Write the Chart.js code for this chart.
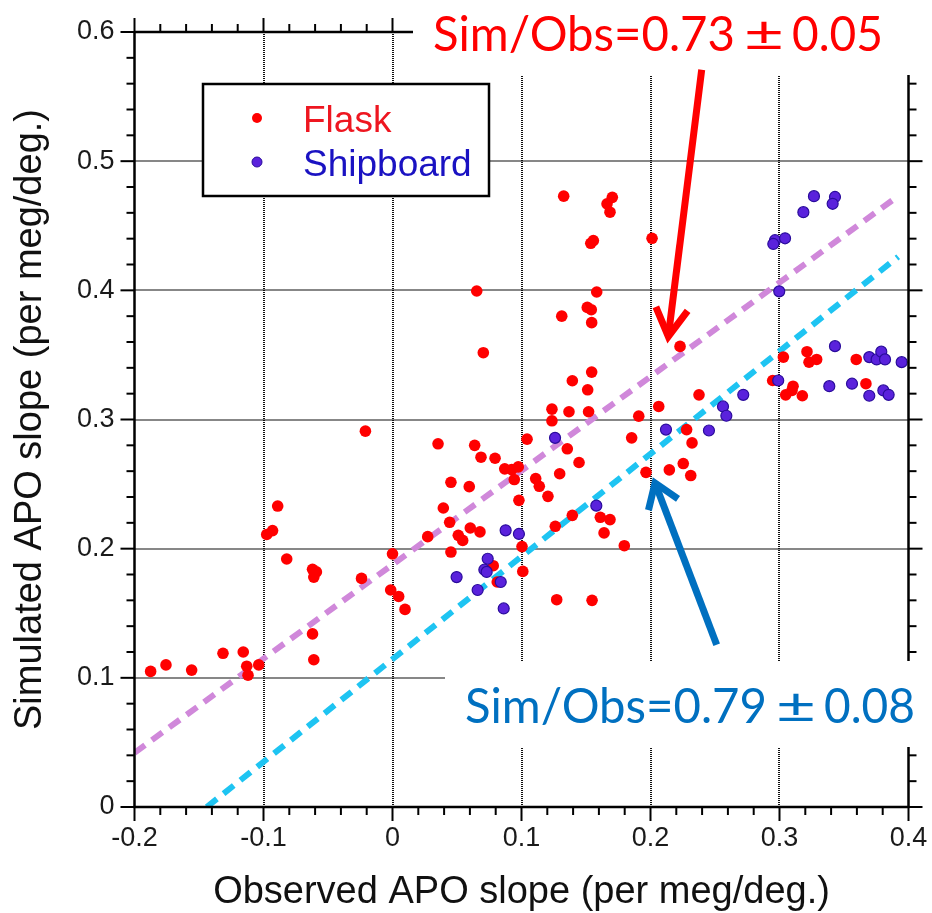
<!DOCTYPE html>
<html>
<head>
<meta charset="utf-8">
<script src="https://cdn.jsdelivr.net/npm/chart.js@4.4.0/dist/chart.umd.min.js"></script>
<style>
    html, body { margin: 0; padding: 0; background: #fff; }
</style>
</head>
<body>
<canvas id="scatter_chart" width="932" height="913"></canvas>
<script>
// Flask samples (observed slope, simulated slope)
const flaskX = [-0.021, -0.089, -0.0975, -0.093, -0.082, -0.062, -0.059, -0.061, -0.024, -0.062,
    -0.061, -0.1875, -0.1756, -0.1557, -0.1314, -0.1157, -0.113, -0.112, -0.1037, 0.000,
    -0.0014, 0.0048, 0.0097, 0.1394, 0.1513, 0.1236, 0.1368, 0.152, 0.1236, 0.1909,
    0.1043, 0.1854, 0.0353, 0.0637, 0.0686, 0.0795, 0.1355, 0.1446, 0.087, 0.0924,
    0.0975, 0.0944, 0.111, 0.1138, 0.1296, 0.1205, 0.0453, 0.0595, 0.098, 0.0394,
    0.0443, 0.0603, 0.0678, 0.0273, 0.051, 0.0544, 0.0453, 0.1004, 0.1394, 0.1262,
    0.1611, 0.1686, 0.164, 0.1797, 0.0781, 0.0812, 0.101, 0.1273, 0.1547, 0.1327,
    0.1704, 0.1663, 0.1686, 0.1557, 0.1537, 0.0653, 0.1583, 0.151, 0.1541, 0.1312,
    0.1544, 0.0704, 0.1544, 0.2012, 0.2229, 0.303, 0.3213, 0.3229, 0.3288, 0.3595,
    0.2947, 0.3048, 0.3105, 0.3097, 0.3177, 0.367, 0.2376, 0.2064, 0.228, 0.2322,
    0.2254, 0.2146, 0.1965, 0.2312]
const flaskY = [0.291, 0.233, 0.211, 0.214, 0.192, 0.184, 0.182, 0.178, 0.177, 0.134,
    0.114, 0.105, 0.110, 0.106, 0.119, 0.120, 0.109, 0.102, 0.110, 0.196,
    0.168, 0.163, 0.153, 0.330, 0.323, 0.308, 0.306, 0.306, 0.299, 0.3026,
    0.2848, 0.2858, 0.2812, 0.280, 0.2708, 0.270, 0.2773, 0.2667, 0.2618, 0.2612,
    0.2633, 0.2535, 0.2543, 0.2483, 0.258, 0.2405, 0.2514, 0.248, 0.2374, 0.2315,
    0.2204, 0.216, 0.213, 0.2093, 0.2103, 0.2064, 0.1974, 0.2016, 0.2258, 0.2173,
    0.2243, 0.2225, 0.2122, 0.2023, 0.1868, 0.1742, 0.1824, 0.1605, 0.160, 0.4729,
    0.472, 0.467, 0.4605, 0.4385, 0.4364, 0.3995, 0.3987, 0.3868, 0.385, 0.380,
    0.375, 0.3517, 0.3367, 0.4403, 0.3566, 0.3483, 0.3525, 0.3444, 0.3465, 0.3465,
    0.3302, 0.3191, 0.3258, 0.3225, 0.3184, 0.3277, 0.3191, 0.3101, 0.2922, 0.2819,
    0.2659, 0.261, 0.2591, 0.2566]

// Shipboard samples
const shipX = [0.0497, 0.126, 0.0877, 0.098, 0.158, 0.0738, 0.0712, 0.073, 0.0839, 0.066,
    0.0862, 0.3267, 0.343, 0.3412, 0.3185, 0.2965, 0.2952, 0.3043, 0.2998, 0.343,
    0.3696, 0.3753, 0.3789, 0.3818, 0.3947, 0.299, 0.3386, 0.3562, 0.3696, 0.3805,
    0.3846, 0.2719, 0.2562, 0.2588, 0.212, 0.2453]
const shipY = [0.178, 0.2858, 0.2142, 0.2114, 0.2333, 0.1922, 0.1837, 0.182, 0.1742, 0.168,
    0.1537, 0.4729, 0.4723, 0.467, 0.4605, 0.4388, 0.4359, 0.4403, 0.3992, 0.3568,
    0.3483, 0.3465, 0.3525, 0.3465, 0.3444, 0.3302, 0.3258, 0.3277, 0.3184, 0.3225,
    0.3191, 0.3191, 0.3101, 0.3029, 0.2922, 0.2915]

// regression lines (end points)
const flaskFitX = [-0.2, 0.392]
const flaskFitY = [0.042, 0.473]
const shipFitX = [-0.144, 0.392]
const shipFitY = [0, 0.426]

const xTicks = [-0.2, -0.1, 0, 0.1, 0.2, 0.3, 0.4]
const yTicks = [0, 0.1, 0.2, 0.3, 0.4, 0.5, 0.6]
const legendLabels = ['Flask', 'Shipboard']

// arrows: [tailX, tailY, tipX, tipY] in data units
const flaskArrow = [0.2397, 0.5708, 0.2138, 0.3643]
const shipArrow = [0.2513, 0.1256, 0.2035, 0.2509]
const flaskRatio = ['Sim/Obs=0.73', '±', '0.05']
const shipRatio = ['Sim/Obs=0.79', '±', '0.08']

const RED = '#ff0000'
const BLUE_FILL = '#5a22dc'
const BLUE_EDGE = '#2a0c9c'

const toPoints = (xs, ys) => xs.map((x, i) => ({ x: x, y: ys[i] }))

function line(ctx, x1, y1, x2, y2) {
    ctx.beginPath()
    ctx.moveTo(x1, y1)
    ctx.lineTo(x2, y2)
    ctx.stroke()
}

function drawArrow(chart, arr, color, wingLen, wingAng) {
    const ctx = chart.ctx
    const sx = chart.scales.x, sy = chart.scales.y
    const x1 = sx.getPixelForValue(arr[0]), y1 = sy.getPixelForValue(arr[1])
    const x2 = sx.getPixelForValue(arr[2]), y2 = sy.getPixelForValue(arr[3])
    const ang = Math.atan2(y1 - y2, x1 - x2)
    ctx.save()
    ctx.strokeStyle = color
    ctx.lineWidth = 7
    ctx.lineJoin = 'miter'
    ctx.setLineDash([])
    line(ctx, x1, y1, x2, y2)
    ctx.beginPath()
    ctx.moveTo(x2 + wingLen * Math.cos(ang - wingAng), y2 + wingLen * Math.sin(ang - wingAng))
    ctx.lineTo(x2, y2)
    ctx.lineTo(x2 + wingLen * Math.cos(ang + wingAng), y2 + wingLen * Math.sin(ang + wingAng))
    ctx.stroke()
    ctx.restore()
}

function fitText(ctx, text, x, base, width) {
    const w = ctx.measureText(text).width
    ctx.save()
    ctx.translate(x, base)
    ctx.scale(width / w, 1)
    ctx.fillText(text, 0, 0)
    ctx.restore()
}

function drawRatio(ctx, parts, x, base, color) {
    ctx.save()
    ctx.font = '48px Lato'
    ctx.fillStyle = color
    ctx.textAlign = 'left'
    ctx.textBaseline = 'alphabetic'
    fitText(ctx, parts[0], x, base, 302)
    fitText(ctx, parts[1], x + 311, base, 40)
    fitText(ctx, parts[2], x + 359, base, 91)
    ctx.restore()
}

const gridPlugin = {
    id: 'dottedGrid',
    beforeDatasetsDraw(chart) {
        const ctx = chart.ctx, a = chart.chartArea
        ctx.save()
        ctx.strokeStyle = '#111'
        ctx.lineWidth = 2
        ctx.setLineDash([1, 1])
        xTicks.slice(1, -1).forEach(v => {
            const x = Math.round(chart.scales.x.getPixelForValue(v))
            line(ctx, x, a.top, x, a.bottom)
        })
        yTicks.slice(1, -1).forEach(v => {
            const y = Math.round(chart.scales.y.getPixelForValue(v))
            line(ctx, a.left, y, a.right, y)
        })
        ctx.restore()
    },
}

const framePlugin = {
    id: 'frame',
    afterDatasetsDraw(chart) {
        const ctx = chart.ctx, a = chart.chartArea
        const sx = chart.scales.x, sy = chart.scales.y
        ctx.save()
        ctx.strokeStyle = '#000'
        ctx.lineWidth = 2.5
        ctx.setLineDash([])
        line(ctx, a.left, a.top, a.left, a.bottom)
        line(ctx, a.right, a.top, a.right, a.bottom)
        line(ctx, a.left, a.top, a.right, a.top)
        line(ctx, a.left - 1, a.bottom, a.right + 1, a.bottom)
        ctx.lineWidth = 2
        for (let i = 0; i <= 30; i++) {
            const len = i % 5 === 0 ? 14 : 8
            const x = sx.getPixelForValue(-0.2 + i * 0.02)
            line(ctx, x, a.bottom, x, a.bottom + len)
            line(ctx, x, a.top, x, a.top - len)
            const y = sy.getPixelForValue(i * 0.02)
            line(ctx, a.left, y, a.left - len, y)
            line(ctx, a.right, y, a.right + len, y)
        }

        // white boxes behind the two ratio labels
        ctx.fillStyle = '#fff'
        ctx.fillRect(413, 0, chart.width - 413, 75)
        ctx.fillRect(445, 661, chart.width - 445, 86)

        // legend
        ctx.fillStyle = '#fff'
        ctx.fillRect(203, 84, 286, 112)
        ctx.lineWidth = 2.5
        ctx.strokeStyle = '#000'
        ctx.strokeRect(203, 84, 286, 112)
        ctx.beginPath()
        ctx.arc(257, 118, 5, 0, Math.PI * 2)
        ctx.fillStyle = RED
        ctx.fill()
        ctx.beginPath()
        ctx.arc(257, 162, 5, 0, Math.PI * 2)
        ctx.fillStyle = BLUE_FILL
        ctx.fill()
        ctx.lineWidth = 1
        ctx.strokeStyle = BLUE_EDGE
        ctx.stroke()
        ctx.font = '37px "Liberation Sans"'
        ctx.textBaseline = 'alphabetic'
        ctx.textAlign = 'left'
        ctx.fillStyle = '#ee1620'
        ctx.fillText(legendLabels[0], 303, 132)
        ctx.fillStyle = '#1a12c2'
        ctx.fillText(legendLabels[1], 303, 176)
        ctx.restore()

        drawRatio(ctx, flaskRatio, 433, 51, '#ff0000')
        drawRatio(ctx, shipRatio, 465, 723, '#0070c0')
        drawArrow(chart, flaskArrow, '#ff0000', 32, Math.PI / 6)
        drawArrow(chart, shipArrow, '#0070c0', 28, 0.6)
    },
}

const tickFont = { family: 'Liberation Sans', size: 27 }
const titleFont = { family: 'Liberation Sans', size: 38, lineHeight: 1 }

new Chart(document.getElementById('scatter_chart'), {
    type: 'scatter',
    data: {
        datasets: [
            {
                label: 'Shipboard',
                data: toPoints(shipX, shipY),
                backgroundColor: BLUE_FILL,
                borderColor: BLUE_EDGE,
                borderWidth: 1.2,
                pointRadius: 5.5,
                order: 0,
            },
            {
                label: 'Flask',
                data: toPoints(flaskX, flaskY),
                backgroundColor: RED,
                borderColor: RED,
                borderWidth: 0,
                pointRadius: 5.8,
                order: 1,
            },
            {
                type: 'line',
                label: 'Flask fit',
                data: toPoints(flaskFitX, flaskFitY),
                borderColor: '#d088da',
                borderWidth: 6,
                borderDash: [13, 8.5],
                pointRadius: 0,
                fill: false,
                order: 2,
            },
            {
                type: 'line',
                label: 'Shipboard fit',
                data: toPoints(shipFitX, shipFitY),
                borderColor: '#1ec4f2',
                borderWidth: 6,
                borderDash: [13, 8.5],
                pointRadius: 0,
                fill: false,
                order: 2,
            },
        ],
    },
    options: {
        responsive: false,
        animation: false,
        layout: { padding: { left: 0, right: 23.5, top: 32, bottom: 0 } },
        plugins: {
            legend: { display: false },
            tooltip: { enabled: false },
        },
        scales: {
            x: {
                type: 'linear',
                min: -0.2,
                max: 0.4,
                afterBuildTicks: s => { s.ticks = xTicks.map(v => ({ value: v })) },
                afterFit: s => {
                    s.height = 106
                    s.paddingLeft = 0
                    s.paddingRight = 0
                },
                grid: { display: false, drawTicks: false },
                border: { display: false },
                ticks: {
                    font: tickFont,
                    color: '#1a1a1a',
                    padding: 15,
                    maxRotation: 0,
                    autoSkip: false,
                    callback: v => String(v),
                },
                title: {
                    display: true,
                    text: 'Observed APO slope (per meg/deg.)',
                    font: titleFont,
                    color: '#111',
                    padding: { top: 0, bottom: 1 },
                },
            },
            y: {
                type: 'linear',
                min: 0,
                max: 0.6,
                afterBuildTicks: s => { s.ticks = yTicks.map(v => ({ value: v })) },
                afterFit: s => {
                    s.width = 134.5
                    s.paddingTop = 0
                    s.paddingBottom = 0
                },
                grid: { display: false, drawTicks: false },
                border: { display: false },
                ticks: {
                    font: tickFont,
                    color: '#1a1a1a',
                    padding: 20,
                    autoSkip: false,
                    callback: v => String(v),
                },
                title: {
                    display: true,
                    text: 'Simulated APO slope (per meg/deg.)',
                    font: titleFont,
                    color: '#111',
                    padding: { top: 12, bottom: 0 },
                },
            },
        },
    },
    plugins: [gridPlugin, framePlugin],
})
</script>
</body>
</html>
